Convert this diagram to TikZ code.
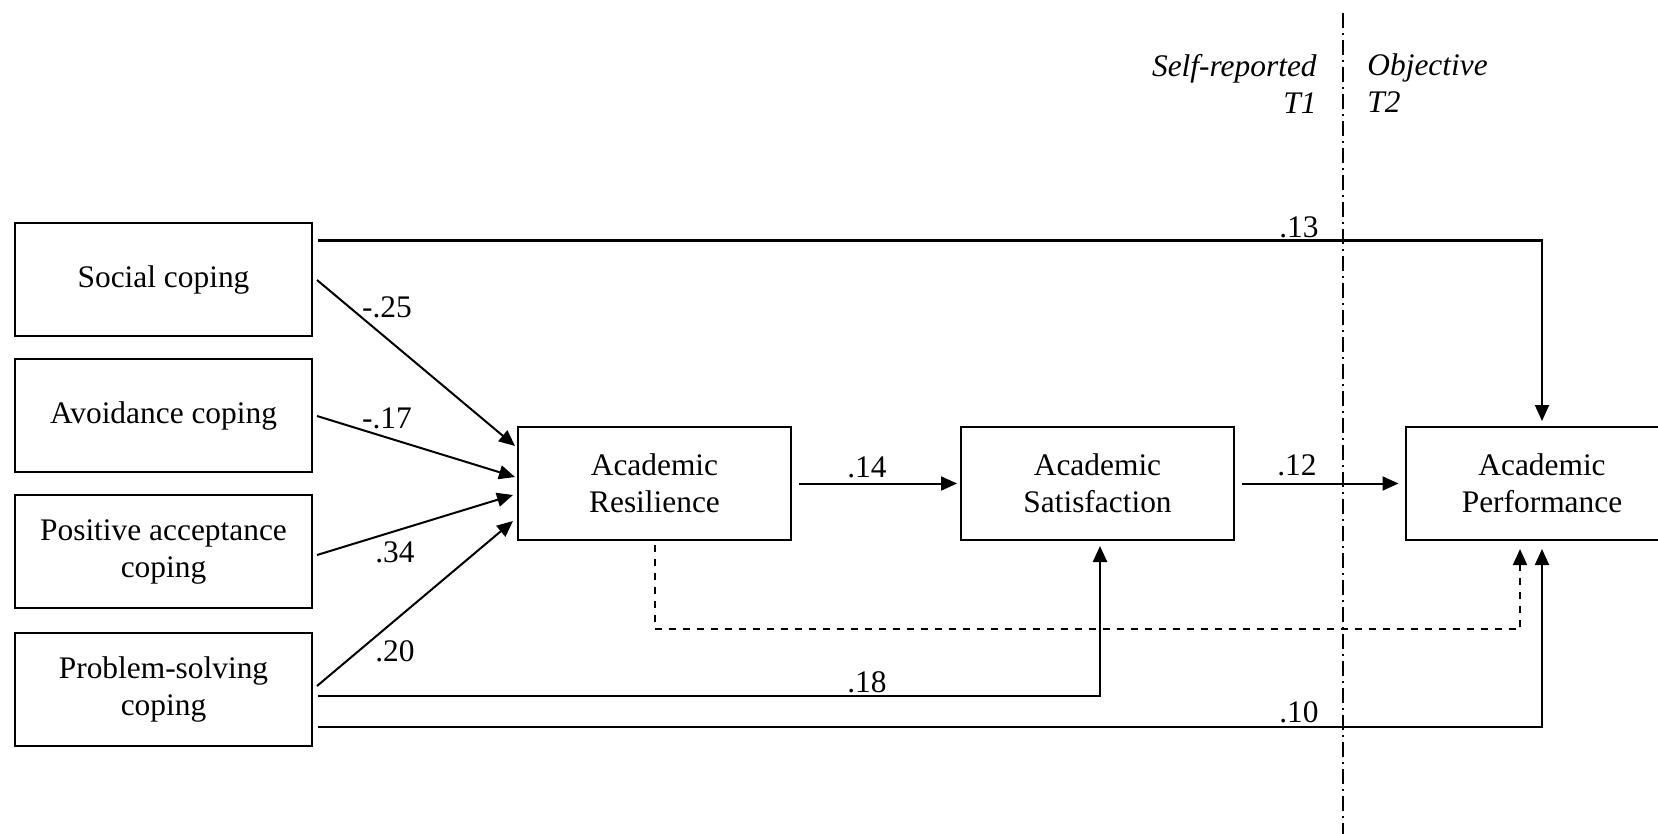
\documentclass[tikz,border=0pt]{standalone}
\usepackage{fontspec}
\setmainfont{Liberation Serif}
\usetikzlibrary{arrows.meta,calc}
\newcommand\lblfont{\fontsize{15.7}{18.5}\selectfont}
\begin{document}
\begin{tikzpicture}[x=0.5pt,y=-0.5pt,
  every node/.style={font=\lblfont, inner sep=0pt},
  varbox/.style={draw, line width=1pt, align=center, minimum height=56.5pt},
  leftbox/.style={varbox, minimum width=148.5pt},
  midbox/.style={varbox, minimum width=136.5pt},
  path/.style={line width=1pt, -{Triangle[length=8pt,width=7pt]}},
  heavyline/.style={line width=1.5pt},
  weakpath/.style={path, dash pattern=on 3.5pt off 3.5pt},
  timeline/.style={line width=1.1pt, dash pattern=on 7.5pt off 2.5pt on 1pt off 2.5pt},
  coef/.style={anchor=center}]
\clip (0,0) rectangle (1658,834);
\useasboundingbox (0,0) rectangle (1658,834);

% measurement occasions
\coordinate (ttop) at (1343,13);
\coordinate (tbot) at (1343,834);
\draw[timeline] (ttop) -- (tbot);
\node[align=right, anchor=east, font=\lblfont\itshape] (selfrep) at (1317,83.5) {Self-reported\\T1};
\node[align=left, anchor=west, font=\lblfont\itshape] (objec) at (1367,83.5) {Objective\\T2};

% coping strategies
\node[leftbox] (soc)  at (163.5,279.5) {Social coping};
\node[leftbox] (avo)  at (163.5,415.5) {Avoidance coping};
\node[leftbox] (pos)  at (163.5,551.5) {Positive acceptance\\coping};
\node[leftbox] (prob) at (163.5,689)   {Problem-solving\\coping};

% outcomes
\node[midbox] (res)  at (654.5,483.5) {Academic\\Resilience};
\node[midbox] (sat)  at (1097.5,483.5) {Academic\\Satisfaction};
\node[midbox] (perf) at (1542,483.5) {Academic\\Performance};

% coping -> resilience
\draw[path] ($(soc.east)+(4,0.5)$) -- ($(res.west)+(-2,-37.5)$);
\draw[path] ($(avo.east)+(4,0.5)$) -- ($(res.west)+(-2,-6.5)$);
\draw[path] ($(pos.east)+(4,3.5)$) -- ($(res.west)+(-4,11.5)$);
\draw[path] ($(prob.east)+(4,-3)$) -- ($(res.west)+(-4,37.5)$);

% mediation chain
\draw[path] ($(res.east)+(7,0)$) -- ($(sat.west)+(-3,0)$);
\draw[path] ($(sat.east)+(7,0)$) -- ($(perf.west)+(-6,0)$);

% direct effects
\coordinate (s13) at ($(soc.east)+(5,-38.5)$);
\coordinate (k13) at (perf.north |- s13);
\draw[heavyline] (s13) -- ([xshift=0.5pt]k13);
\draw[path] (k13) -- ($(perf.north)+(0,-5)$);
\draw[path, line width=1.2pt] ($(prob.east)+(5,7)$) -| ($(sat.south)+(2.5,5)$);
\draw[path] ($(prob.east)+(5,38)$) -| ($(perf.south)+(0,8)$);
\draw[weakpath] ($(res.south)+(0,4)$) -- ($(res.south)+(0,88)$) -| ($(perf.south)+(-22,8)$);

% path coefficients
\node[coef] (c13) at (1299,227) {.13};
\node[coef] (c25) at (387,307) {-.25};
\node[coef] (c17) at (387,418) {-.17};
\node[coef] (c34) at (395,552) {.34};
\node[coef] (c20) at (395,651) {.20};
\node[coef] (c14) at (867,467) {.14};
\node[coef] (c12) at (1297,465) {.12};
\node[coef] (c18) at (867,682) {.18};
\node[coef] (c10) at (1299,712) {.10};
\end{tikzpicture}
\end{document}
